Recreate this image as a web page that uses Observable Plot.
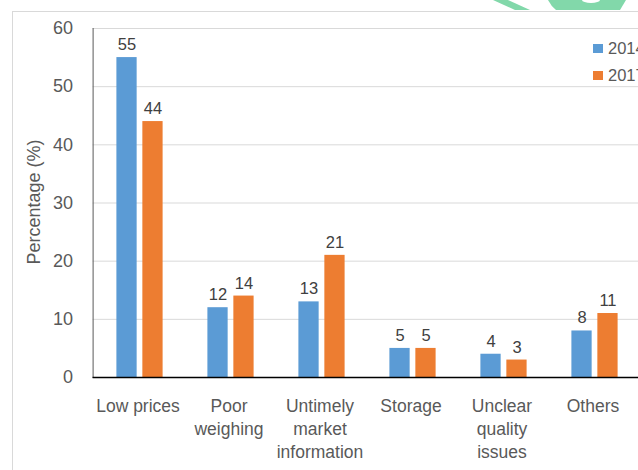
<!DOCTYPE html>
<html>
<head>
<meta charset="utf-8">
<script src="https://cdn.jsdelivr.net/npm/d3@7"></script>
<script src="https://cdn.jsdelivr.net/npm/@observablehq/plot@0.6"></script>
<style>
  html, body { margin: 0; padding: 0; background: #fff; width: 638px; height: 470px; overflow: hidden; }
  #wrap { position: relative; width: 638px; height: 470px; overflow: hidden; font-family: "Liberation Sans", Arial, sans-serif; }
  #border { position: absolute; left: 12px; top: 11px; width: 700px; height: 500px; border-left: 1px solid #d9d9d9; border-top: 1px solid #d9d9d9; }
  #badge { position: absolute; left: 0; top: 0; }
  #chart { position: absolute; left: 0; top: 0; }
  #chart svg { max-width: none; background: transparent; }
  #ytitle { position: absolute; left: 34px; top: 202px; transform: translate(-50%, -50%) rotate(-90deg); font-size: 18px; color: #595959; white-space: nowrap; line-height: 1; }
  #legend { position: absolute; left: 593px; top: 35px; }
  .key { display: flex; align-items: center; height: 27px; font-size: 16.5px; color: #595959; white-space: nowrap; }
  .sw { display: inline-block; width: 9.5px; height: 9.5px; margin-right: 5.5px; }
</style>
</head>
<body>
<div id="wrap">
  <svg id="badge" width="638" height="12">
    <!-- corner of a green badge peeking in above the chart frame -->
    <polygon points="493,0 508,0 530,10 515,10" fill="#82d8aa"/>
    <path d="M548,0 L626,0 L620,10 L556,10 Q551,6 548,0 Z" fill="#82d8aa"/>
    <ellipse cx="591" cy="0" rx="9" ry="3" fill="#fff"/>
  </svg>
  <div id="border"></div>
  <div id="chart"></div>
  <div id="ytitle"></div>
  <div id="legend"></div>
</div>
<script>
// Problems reported by farmers when selling, by survey year
const categories = ["Low prices", "Poor\nweighing", "Untimely\nmarket\ninformation", "Storage", "Unclear\nquality\nissues", "Others"];
const years = ["2014", "2017"];
const values2014 = [55, 12, 13, 5, 4, 8];
const values2017 = [44, 14, 21, 5, 3, 11];
const yTicks = [0, 10, 20, 30, 40, 50, 60];
const yTitle = "Percentage (%)";
const colors = ["#5b9bd5", "#ed7d31"];

const rows2014 = categories.map((c, i) => ({category: c, year: years[0], value: values2014[i]}));
const rows2017 = categories.map((c, i) => ({category: c, year: years[1], value: values2017[i]}));

const width = 650, height = 470;
const marginLeft = 92.6, marginRight = 9, marginTop = 28, marginBottom = 93;
const band = (width - marginLeft - marginRight) / categories.length;
const outer = 0.245 * band;   // gap between band edge and the outer bar
const barW = 0.226 * band;    // width of one bar
const shift = band / 2 - outer - barW / 2; // bar centre offset from band centre

const font = '"Liberation Sans", Arial, sans-serif';

const chart = Plot.plot({
  width, height, marginLeft, marginRight, marginTop, marginBottom,
  style: {fontFamily: font, color: "#595959", background: "transparent", overflow: "visible"},
  x: {domain: categories, padding: 0},
  y: {domain: [0, 60]},
  color: {domain: years, range: colors},
  marks: [
    Plot.gridY(yTicks, {stroke: "#d9d9d9", strokeOpacity: 1, strokeWidth: 1}),
    Plot.barY(rows2014, {x: "category", y: "value", fill: "year", insetLeft: outer, insetRight: band - outer - barW}),
    Plot.barY(rows2017, {x: "category", y: "value", fill: "year", insetLeft: band - outer - barW, insetRight: outer}),
    Plot.text(rows2014, {x: "category", y: "value", text: d => String(d.value), dx: -shift, dy: -7.5, lineAnchor: "bottom", fontSize: 16.5, fill: "#404040"}),
    Plot.text(rows2017, {x: "category", y: "value", text: d => String(d.value), dx: shift, dy: -7.5, lineAnchor: "bottom", fontSize: 16.5, fill: "#404040"}),
    Plot.frame({anchor: "left", stroke: "#595959"}),
    Plot.ruleY([0], {stroke: "#000", strokeWidth: 1.3}),
    Plot.axisY({ticks: yTicks, tickSize: 0, tickPadding: 20, fontSize: 18, fill: "#595959", label: null}),
    Plot.axisX({anchor: "bottom", tickSize: 0, tickPadding: 17.5, fontSize: 17.5, lineHeight: 1.33, fill: "#595959", label: null, dx: -2})
  ]
});
document.getElementById("chart").append(chart);

d3.select("#ytitle").text(yTitle);

// legend entries, one per survey year
const legend = d3.select("#legend");
years.forEach((y, i) => {
  const row = legend.append("div").attr("class", "key");
  row.append("span").attr("class", "sw").style("background", colors[i]);
  row.append("span").text(y);
});
</script>
</body>
</html>
